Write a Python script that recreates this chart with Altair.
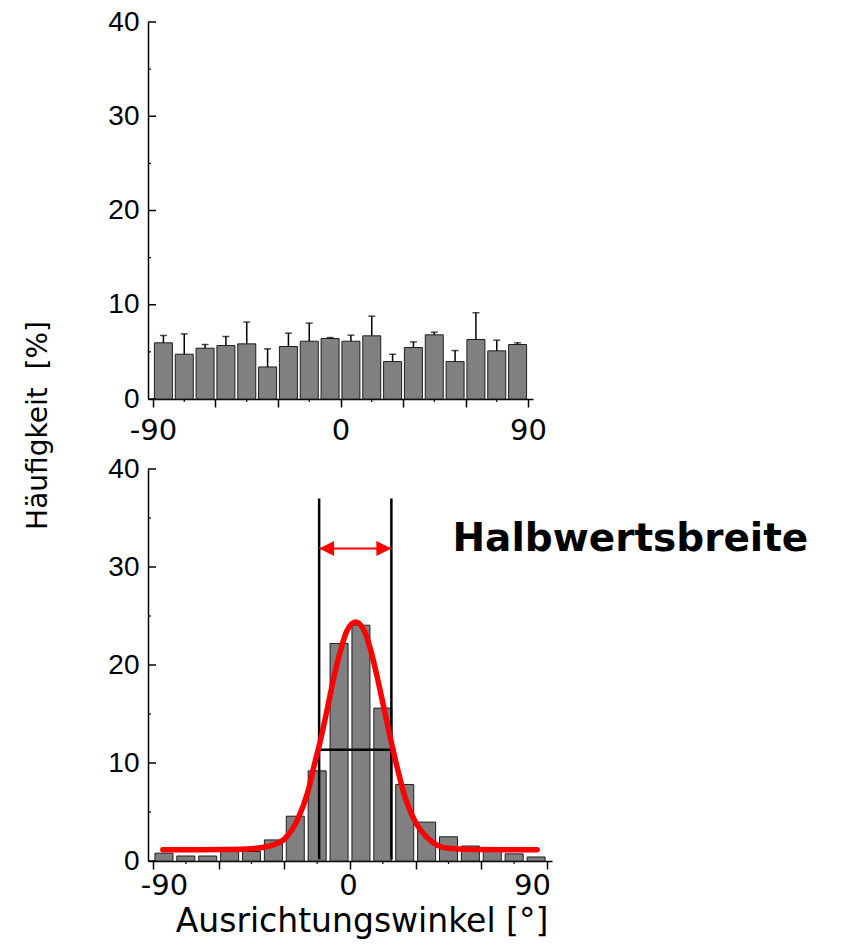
import altair as alt
import pandas as pd

# ---------------- data ----------------
bin_centers = [-85, -75, -65, -55, -45, -35, -25, -15, -5, 5, 15, 25, 35, 45, 55, 65, 75, 85]

top_values = [5.96, 4.75, 5.39, 5.67, 5.85, 3.40, 5.57, 6.13, 6.42,
              6.13, 6.70, 3.97, 5.46, 6.81, 3.97, 6.31, 5.11, 5.78]
top_errors = [0.78, 2.16, 0.39, 0.96, 2.31, 1.92, 1.42, 1.92, 0.10,
              0.64, 2.09, 0.78, 0.60, 0.28, 1.17, 2.84, 1.13, 0.18]

bottom_values = [0.80, 0.51, 0.51, 0.97, 0.97, 2.15, 4.57, 9.20, 22.20,
                 24.06, 15.60, 7.80, 3.97, 2.47, 1.53, 1.00, 0.73, 0.41]

curve_x = [-85.5, -70.0, -55.0, -45.0, -40.0, -35.6, -29.7, -23.7, -19.2, -16.3,
           -13.3, -10.3, -7.4, -4.4, -1.5, 2.6, 6.6, 9.6, 12.5, 15.5,
           18.5, 21.6, 25.3, 29.8, 35.7, 40.0, 45.0, 55.0, 70.0, 85.5]
curve_y = [1.16, 1.16, 1.18, 1.25, 1.38, 1.60, 2.30, 4.36, 7.09, 9.80,
           12.50, 15.60, 18.70, 21.40, 23.45, 24.40, 23.45, 21.40, 18.70, 15.60,
           12.50, 9.50, 6.40, 4.00, 2.30, 1.60, 1.30, 1.18, 1.16, 1.16]

fwhm_left = -14.1
fwhm_right = 18.9
half_max_level = 11.36
marker_line_bottom = 0.17
marker_line_top = 37.0
arrow_level = 31.9
annotation_text = "Halbwertsbreite"
annotation_x = 46.8
annotation_y = 31.6

x_major_ticks = [-90, -60, -30, 0, 30, 60, 90]
x_minor_ticks = [-75, -45, -15, 15, 45, 75]
y_major_ticks = [0, 10, 20, 30, 40]
y_minor_ticks = [5, 15, 25, 35]

y_title = "H\u00e4ufigkeit\u00a0 [%]"
x_title = "Ausrichtungswinkel [\u00b0]"

# ---------------- tables ----------------
top_df = pd.DataFrame({"center": bin_centers, "value": top_values, "err": top_errors})
bottom_df = pd.DataFrame({"center": bin_centers, "value": bottom_values})
curve_df = pd.DataFrame({"x": curve_x, "y": curve_y})
ymaj_df = pd.DataFrame({"v": y_major_ticks})
ymin_df = pd.DataFrame({"v": y_minor_ticks})
xmin_df = pd.DataFrame({"v": x_minor_ticks})
vlines_df = pd.DataFrame({"x": [fwhm_left, fwhm_right],
                          "y1": [marker_line_bottom] * 2, "y2": [marker_line_top] * 2})
hline_df = pd.DataFrame({"x1": [fwhm_left], "x2": [fwhm_right], "y": [half_max_level]})
arrow_df = pd.DataFrame({"x1": [fwhm_left], "x2": [fwhm_right], "y": [arrow_level]})
head_l_df = pd.DataFrame({"x": [fwhm_left], "y": [arrow_level]})
head_r_df = pd.DataFrame({"x": [fwhm_right], "y": [arrow_level]})
text_df = pd.DataFrame({"x": [annotation_x], "y": [annotation_y], "t": [annotation_text]})

XS = alt.Scale(domain=[-90, 90], nice=False, zero=False)
YS = alt.Scale(domain=[0, 40], nice=False)


def x_axis(label_padding, title=None, **kw):
    return alt.Axis(
        values=x_major_ticks,
        labelExpr="datum.value % 90 == 0 ? '' + datum.value : ''",
        tickSize=8, tickWidth=1.5, tickColor="black",
        domainColor="black", domainWidth=1.5,
        labelFont="DejaVu Sans", labelFontSize=29, labelColor="black",
        labelBaseline="alphabetic", labelPadding=label_padding,
        labelFlush=False, labelOverlap=False, grid=False,
        title=title, **kw)


def y_axis(title=None, **kw):
    return alt.Axis(
        values=y_major_ticks, ticks=False, tickSize=0,
        domainColor="black", domainWidth=1.5,
        labelFont="Liberation Sans", labelFontSize=28, labelColor="black",
        labelPadding=9, labelBaseline="middle", grid=False,
        title=title, **kw)


def tick_layers(height):
    maj = alt.Chart(ymaj_df).mark_rule(color="black", strokeWidth=1.5).encode(
        y=alt.Y("v:Q", scale=YS), x=alt.value(0), x2=alt.value(8))
    mino = alt.Chart(ymin_df).mark_rule(color="black", strokeWidth=1.2).encode(
        y=alt.Y("v:Q", scale=YS), x=alt.value(0), x2=alt.value(3))
    xmino = alt.Chart(xmin_df).mark_rule(color="black", strokeWidth=1.2).encode(
        x=alt.X("v:Q", scale=XS), y=alt.value(height), y2=alt.value(height + 3))
    return [maj, mino, xmino]


# ---------------- top panel ----------------
TOP_W, TOP_H = 385, 377
top_bars = alt.Chart(top_df).mark_bar(size=18, fill="#808080", stroke="#1e1e1e", strokeWidth=1).encode(
    x=alt.X("center:Q", scale=XS, axis=x_axis(32)),
    y=alt.Y("value:Q", scale=YS, axis=y_axis()),
)
top_err = alt.Chart(top_df).transform_calculate(hi="datum.value + datum.err").mark_rule(
    color="black", strokeWidth=1.5).encode(x="center:Q", y="value:Q", y2="hi:Q")
top_cap = alt.Chart(top_df).transform_calculate(hi="datum.value + datum.err").mark_tick(
    orient="horizontal", size=7, thickness=1.5, color="black").encode(x="center:Q", y="hi:Q")

top = alt.layer(top_bars, top_err, top_cap, *tick_layers(TOP_H)).properties(width=TOP_W, height=TOP_H)

# ---------------- bottom panel ----------------
BOT_W, BOT_H = 404, 392
bot_x_axis = x_axis(25, title=x_title, titleFont="DejaVu Sans", titleFontSize=33,
                    titleFontWeight="normal", titleColor="black", titleX=213.5, titleY=70,
                    titleAlign="center", titleBaseline="alphabetic", titleAngle=0,
                    labelOffset={"condition": [{"test": "datum.value == -90", "value": 11},
                                               {"test": "datum.value == 90", "value": -15}],
                                 "value": -2})
bot_y_axis = y_axis(title=y_title, titleFont="DejaVu Sans", titleFontSize=28,
                    titleFontWeight="normal", titleColor="black", titleAngle=270,
                    titleAlign="center", titleBaseline="middle", titleX=-110, titleY=-44)

bot_bars = alt.Chart(bottom_df).mark_bar(size=18, fill="#808080", stroke="#1e1e1e", strokeWidth=1).encode(
    x=alt.X("center:Q", scale=XS, axis=bot_x_axis),
    y=alt.Y("value:Q", scale=YS, axis=bot_y_axis),
)
vlines = alt.Chart(vlines_df).mark_rule(color="black", strokeWidth=2.5).encode(
    x="x:Q", y="y1:Q", y2="y2:Q")
hline = alt.Chart(hline_df).mark_rule(color="black", strokeWidth=2.5).encode(
    x="x1:Q", x2="x2:Q", y="y:Q")
curve = alt.Chart(curve_df).mark_line(color="#ff0000", strokeWidth=5.5, interpolate="monotone",
                                      strokeCap="round").encode(x="x:Q", y="y:Q")
arrow_line = alt.Chart(arrow_df).mark_rule(color="#ff0000", strokeWidth=2).encode(
    x="x1:Q", x2="x2:Q", y="y:Q")
head_l = alt.Chart(head_l_df).mark_point(shape="M0,0 L2,-1 L2,1 Z", size=225, filled=True,
                                         color="#ff0000", opacity=1).encode(x="x:Q", y="y:Q")
head_r = alt.Chart(head_r_df).mark_point(shape="M0,0 L-2,-1 L-2,1 Z", size=225, filled=True,
                                         color="#ff0000", opacity=1).encode(x="x:Q", y="y:Q")
label = alt.Chart(text_df).mark_text(font="DejaVu Sans", fontSize=39, fontWeight="bold",
                                     align="left", baseline="alphabetic", color="black").encode(
    x="x:Q", y="y:Q", text="t:N")

bottom = alt.layer(bot_bars, vlines, hline, curve, arrow_line, head_l, head_r, label,
                   *tick_layers(BOT_H)).properties(width=BOT_W, height=BOT_H)

chart = alt.vconcat(top, bottom, spacing=70, bounds="flush").properties(
    padding={"left": 15, "top": 0, "right": 5, "bottom": 5},
    background="white",
).configure_view(stroke=None)

chart.save("out.html", embed_options={"renderer": "svg", "actions": False})
